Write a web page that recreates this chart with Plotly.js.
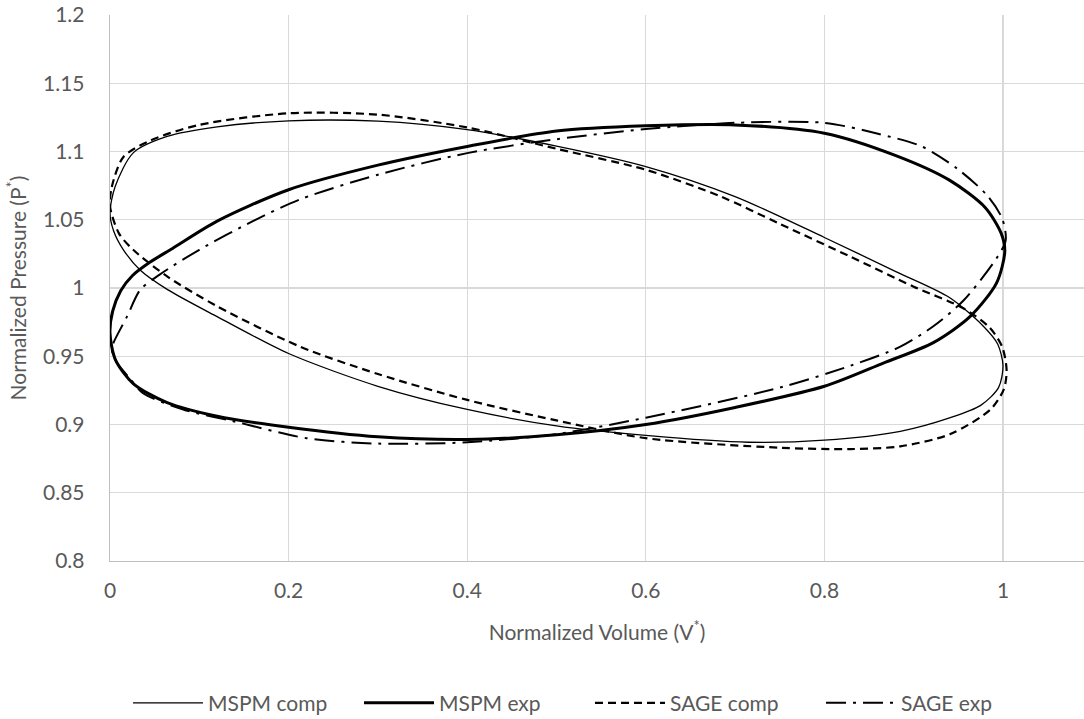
<!DOCTYPE html>
<html>
<head>
<meta charset="utf-8">
<script src="https://cdn.plot.ly/plotly-3.0.1.min.js"></script>
<style>html,body{margin:0;padding:0;background:#fff;}#chart{width:1084px;height:719px;}</style>
</head>
<body>
<div id="chart"></div>
<script>
// MSPM comp (thin solid)
const mspmCompV = [0, 0.0056, 0.026, 0.064, 0.12, 0.2, 0.3, 0.4, 0.5, 0.6, 0.7, 0.8, 0.88, 0.94, 0.978, 0.994, 1.0, 0.995, 0.975, 0.941, 0.885, 0.8, 0.715, 0.6, 0.5, 0.4, 0.3, 0.2, 0.12, 0.064, 0.034, 0.015, 0.004, 0];
const mspmCompP = [1.055, 1.074, 1.099, 1.111, 1.118, 1.1225, 1.1222, 1.116, 1.104, 1.089, 1.067, 1.037, 1.012, 0.993, 0.972, 0.959, 0.943, 0.927, 0.914, 0.905, 0.895, 0.8885, 0.887, 0.892, 0.899, 0.911, 0.928, 0.952, 0.979, 0.999, 1.013, 1.028, 1.042, 1.055];

// MSPM exp (thick solid)
const mspmExpV = [0, 0.003, 0.012, 0.025, 0.045, 0.07, 0.12, 0.2, 0.3, 0.4, 0.5, 0.6, 0.7, 0.8, 0.88, 0.94, 0.98, 0.998, 1.002, 0.993, 0.963, 0.922, 0.866, 0.8, 0.7, 0.6, 0.5, 0.4, 0.3, 0.2, 0.12, 0.064, 0.026, 0.006, 0];
const mspmExpP = [0.967, 0.983, 0.998, 1.009, 1.019, 1.029, 1.049, 1.072, 1.09, 1.1037, 1.115, 1.1188, 1.1195, 1.1134, 1.097, 1.079, 1.059, 1.04, 1.027, 1.004, 0.979, 0.96, 0.945, 0.928, 0.9125, 0.9, 0.8925, 0.889, 0.891, 0.898, 0.906, 0.916, 0.93, 0.9476, 0.967];

// SAGE comp (dashed)
const sageCompV = [0, 0.002, 0.015, 0.045, 0.1, 0.2, 0.3, 0.4, 0.5, 0.6, 0.684, 0.75, 0.829, 0.9, 0.956, 0.985, 0.999, 1.004, 1.001, 0.986, 0.941, 0.885, 0.829, 0.75, 0.6, 0.5, 0.4, 0.3, 0.213, 0.12, 0.064, 0.026, 0.01, 0];
const sageCompP = [1.06, 1.074, 1.096, 1.108, 1.1195, 1.128, 1.127, 1.1176, 1.102, 1.0866, 1.067, 1.047, 1.023, 1.001, 0.985, 0.971, 0.957, 0.94, 0.926, 0.911, 0.893, 0.884, 0.882, 0.883, 0.890, 0.903, 0.918, 0.937, 0.957, 0.9866, 1.0085, 1.028, 1.04, 1.06];

// SAGE exp (dash-dot)
const sageExpV = [0.002, 0.004, 0.019, 0.034, 0.056, 0.1, 0.16, 0.213, 0.3, 0.4, 0.5, 0.6, 0.7, 0.8, 0.86, 0.909, 0.948, 0.982, 0.999, 1.003, 0.993, 0.956, 0.922, 0.885, 0.829, 0.75, 0.6, 0.5, 0.4, 0.3, 0.22, 0.138, 0.082, 0.037, 0.022, 0.008, 0.002];
const sageExpP = [0.955, 0.96, 0.979, 0.9988, 1.01, 1.028, 1.049, 1.065, 1.083, 1.0988, 1.109, 1.1164, 1.121, 1.121, 1.113, 1.1037, 1.0878, 1.068, 1.051, 1.035, 1.022, 0.991, 0.972, 0.957, 0.943, 0.927, 0.905, 0.893, 0.887, 0.886, 0.890, 0.9024, 0.911, 0.923, 0.934, 0.945, 0.955];

const seriesNames = ['MSPM comp', 'MSPM exp', 'SAGE comp', 'SAGE exp'];
const xTitle = 'Normalized Volume (V<sup>*</sup>)';
const yTitle = 'Normalized Pressure (P<sup>*</sup>)';

const FONT = 'Lato, "Open Sans", sans-serif';
const TXT = '#595959';

const traces = [
  {x: mspmCompV, y: mspmCompP, name: seriesNames[0], mode: 'lines',
   line: {color: '#000', width: 1.3, shape: 'spline', smoothing: 0.8}},
  {x: mspmExpV, y: mspmExpP, name: seriesNames[1], mode: 'lines',
   line: {color: '#000', width: 3, shape: 'spline', smoothing: 0.8}},
  {x: sageCompV, y: sageCompP, name: seriesNames[2], mode: 'lines',
   line: {color: '#000', width: 2.2, dash: '8px,5px', shape: 'spline', smoothing: 0.8}},
  {x: sageExpV, y: sageExpP, name: seriesNames[3], mode: 'lines',
   line: {color: '#000', width: 2, dash: '20px,7px,3px,7px', shape: 'spline', smoothing: 0.8}}
];

const layout = {
  width: 1084, height: 719,
  margin: {l: 110, r: 0, t: 15, b: 158},
  paper_bgcolor: '#fff', plot_bgcolor: '#fff',
  font: {family: FONT, size: 21, color: TXT},
  showlegend: true,
  legend: {orientation: 'h', x: 0.0185, xanchor: 'left', yref: 'container', y: 0.022, yanchor: 'middle',
           font: {family: FONT, size: 21, color: TXT}, itemwidth: 70, traceorder: 'normal',
           entrywidth: 146, entrywidthmode: 'pixels'},
  xaxis: {
    range: [0, 1.0907], tick0: 0, dtick: 0.2, tickvals: [0, 0.2, 0.4, 0.6, 0.8, 1],
    showgrid: true, gridcolor: '#d9d9d9', gridwidth: 1.3,
    showline: true, linecolor: '#bfbfbf', linewidth: 1.3, automargin: false,
    zeroline: false, ticks: '', ticklabelstandoff: 10,
    tickfont: {family: FONT, size: 21, color: TXT},
    title: {text: xTitle, font: {family: FONT, size: 21, color: TXT}, standoff: 24}
  },
  yaxis: {
    range: [0.8, 1.2], tick0: 0.8, dtick: 0.05,
    showgrid: true, gridcolor: '#d9d9d9', gridwidth: 1.3,
    showline: true, linecolor: '#bfbfbf', linewidth: 1.3, automargin: false,
    zeroline: false, ticks: '', ticklabelstandoff: 20,
    tickfont: {family: FONT, size: 21, color: TXT},
    title: {text: yTitle, font: {family: FONT, size: 21, color: TXT}, standoff: 10}
  }
};

Plotly.newPlot('chart', traces, layout, {displayModeBar: false, staticPlot: true});
</script>
</body>
</html>
